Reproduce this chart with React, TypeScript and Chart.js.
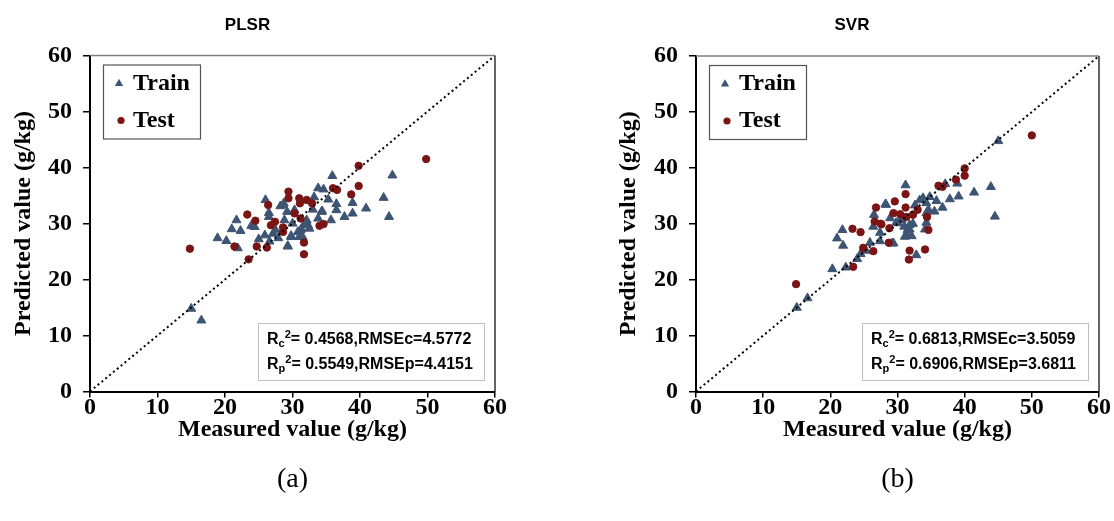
import React, { useEffect, useRef } from "react";
import { Chart, registerables } from "chart.js";

Chart.register(...registerables);

// ---------- data ----------
const axisTicks = [0, 10, 20, 30, 40, 50, 60];
const axisMin = 0;
const axisMax = 60;
const identityLine = [0, 60];

const plsrTrain: [number, number][] = [
  [15.0, 14.8], [16.5, 12.7], [18.9, 27.4], [20.2, 26.9], [21.0, 29.0], [21.7, 30.6],
  [22.3, 28.7], [21.9, 25.6], [23.9, 29.6], [24.4, 29.4], [26.0, 34.2], [26.5, 31.9],
  [26.5, 31.2], [25.0, 27.2], [25.9, 27.9], [27.1, 28.2], [26.6, 26.8], [27.9, 27.4],
  [28.2, 33.1], [28.7, 33.6], [29.2, 32.1], [27.5, 28.8], [29.3, 25.9], [29.8, 27.8],
  [31.0, 27.6], [30.0, 30.0], [30.8, 28.5], [31.3, 29.0], [31.7, 29.8], [32.3, 29.7],
  [32.1, 30.6], [33.0, 32.5], [33.8, 36.3], [34.6, 36.1], [35.9, 38.5], [34.3, 32.1],
  [35.3, 34.3], [36.5, 33.5], [36.5, 32.4], [35.7, 30.6], [37.7, 31.2], [38.9, 33.7],
  [38.9, 31.8], [40.9, 32.7], [43.5, 34.6], [44.8, 38.6], [44.3, 31.2], [31.2, 28.8],
  [31.5, 27.6], [29.3, 26.0], [28.8, 30.6], [30.3, 32.4], [32.0, 30.3], [32.5, 29.1],
  [33.8, 30.9], [33.2, 34.7], [34.4, 32.2], [28.6, 33.3], [29.8, 27.6],
];
const plsrTest: [number, number][] = [
  [14.8, 25.5], [23.3, 31.6], [24.5, 30.5], [21.4, 25.9], [23.5, 23.6], [24.7, 25.9],
  [26.2, 25.7], [26.4, 33.3], [26.8, 29.7], [27.4, 30.3], [28.6, 29.3], [28.6, 28.5],
  [29.4, 35.7], [29.4, 34.5], [30.3, 31.8], [31.0, 34.5], [31.1, 33.6], [31.2, 30.9],
  [32.1, 34.2], [32.9, 33.6], [31.7, 26.6], [31.7, 24.5], [34.0, 29.6], [34.6, 29.9],
  [36.0, 36.3], [36.6, 36.0], [38.7, 35.2], [39.8, 36.7], [39.8, 40.3], [49.8, 41.5],
];
const svrTrain: [number, number][] = [
  [15.0, 15.0], [16.6, 16.7], [20.3, 21.9], [22.3, 22.2], [21.9, 26.1], [21.0, 27.4],
  [21.8, 28.9], [24.0, 23.7], [24.5, 24.6], [25.3, 25.2], [25.9, 26.6], [27.4, 28.4],
  [27.4, 26.9], [26.5, 31.6], [28.2, 33.5], [26.4, 29.5], [29.2, 26.5], [28.9, 31.0],
  [29.8, 30.2], [30.6, 30.7], [31.2, 36.9], [31.4, 28.0], [31.8, 29.0], [31.0, 29.5],
  [32.3, 30.0], [32.8, 24.4], [33.8, 34.6], [34.3, 33.7], [34.3, 31.9], [34.3, 30.2],
  [45.0, 44.8], [43.9, 36.6], [41.4, 35.6], [39.1, 34.9], [37.8, 34.4], [38.9, 37.2],
  [37.1, 37.1], [34.8, 34.8], [35.8, 34.1], [36.7, 32.9], [34.6, 32.5], [35.5, 32.2],
  [33.3, 34.2], [32.6, 33.3], [44.5, 31.3], [28.3, 33.4], [30.1, 30.1], [31.8, 29.8],
  [31.5, 28.9], [31.1, 27.7], [32.1, 27.8], [34.1, 29.0], [29.4, 26.5],
];
const svrTest: [number, number][] = [
  [14.9, 19.2], [23.4, 22.3], [23.3, 29.1], [24.5, 28.5], [24.9, 25.7], [26.4, 25.1],
  [26.8, 32.9], [26.6, 30.4], [27.5, 30.0], [28.8, 29.2], [28.7, 26.6], [29.6, 34.0],
  [31.2, 35.3], [31.2, 32.9], [29.4, 31.9], [30.4, 31.7], [31.3, 31.2], [32.3, 31.6],
  [33.0, 32.5], [34.4, 31.2], [34.6, 28.9], [31.8, 25.2], [31.7, 23.6], [34.1, 25.4],
  [50.0, 45.8], [40.0, 39.9], [40.0, 38.6], [38.7, 37.9], [36.1, 36.8], [36.7, 36.6],
  [27.6, 29.9],
];

const plsrStats = ["0.4568", "4.5772", "0.5549", "4.4151"];
const svrStats = ["0.6813", "3.5059", "0.6906", "3.6811"];
const legendLabels = ["Train", "Test"];
const panelTitles = ["PLSR", "SVR"];
const panelTags = ["(a)", "(b)"];
const xTitle = "Measured value (g/kg)";
const yTitle = "Predicted value (g/kg)";

// ---------- styles ----------
const BLUE = "#3D5473";
const RED = "#7B1414";
const SERIF = '"Liberation Serif", "Times New Roman", serif';
const SANS = '"Liberation Sans", Arial, sans-serif';

type Panel = {
  left: number;
  width: number;
  height: number;
  yAxisWidth: number;
  padRight: number;
  padTop: number;
  xAxisHeight: number;
  yTitlePad: number;
  titleX: number;
  title: string;
  tag: string;
  train: [number, number][];
  test: [number, number][];
  stats: string[];
};

function drawTriangle(ctx: CanvasRenderingContext2D, x: number, y: number, r: number) {
  ctx.beginPath();
  for (let i = 0; i < 3; i++) {
    const a = (i * 2 * Math.PI) / 3;
    const px = x + Math.sin(a) * r;
    const py = y - Math.cos(a) * r;
    if (i === 0) ctx.moveTo(px, py);
    else ctx.lineTo(px, py);
  }
  ctx.closePath();
  ctx.fill();
}

function drawStatLine(
  ctx: CanvasRenderingContext2D,
  x: number,
  y: number,
  sub: string,
  r2: string,
  rmseName: string,
  rmse: string
) {
  ctx.textBaseline = "alphabetic";
  ctx.textAlign = "left";
  ctx.fillStyle = "#000";
  ctx.font = `bold 16px ${SANS}`;
  ctx.fillText("R", x, y);
  let cx = x + ctx.measureText("R").width;
  ctx.font = `bold 11px ${SANS}`;
  ctx.fillText(sub, cx, y + 3);
  cx += ctx.measureText(sub).width;
  ctx.fillText("2", cx, y - 6);
  cx += ctx.measureText("2").width;
  ctx.font = `bold 16px ${SANS}`;
  ctx.fillText(`= ${r2},${rmseName}=${rmse}`, cx, y);
}

function makeDecor(p: Panel) {
  return {
    id: "decor",
    afterDraw(chart: any) {
      const { ctx, chartArea: ca } = chart;
      ctx.save();
      // top & right frame
      ctx.lineWidth = 1.5;
      ctx.strokeStyle = "#808080";
      ctx.beginPath();
      ctx.moveTo(ca.left, ca.top);
      ctx.lineTo(ca.right, ca.top);
      ctx.stroke();
      ctx.strokeStyle = "#303030";
      ctx.beginPath();
      ctx.moveTo(ca.right, ca.top);
      ctx.lineTo(ca.right, ca.bottom);
      ctx.stroke();

      // legend box
      const lx = ca.left + 13;
      const ly = ca.top + 9;
      const lw = 97;
      const lh = 74;
      ctx.fillStyle = "#fff";
      ctx.fillRect(lx, ly, lw, lh);
      ctx.strokeStyle = "#555";
      ctx.lineWidth = 1.2;
      ctx.strokeRect(lx + 0.5, ly + 0.5, lw, lh);
      ctx.fillStyle = BLUE;
      drawTriangle(ctx, lx + 16, ly + 19, 4.8);
      ctx.fillStyle = RED;
      ctx.beginPath();
      ctx.arc(lx + 18, ly + 56, 3.6, 0, Math.PI * 2);
      ctx.fill();
      ctx.fillStyle = "#000";
      ctx.font = `bold 24px ${SERIF}`;
      ctx.textAlign = "left";
      ctx.textBaseline = "middle";
      ctx.fillText(legendLabels[0], lx + 30, ly + 19);
      ctx.fillText(legendLabels[1], lx + 30, ly + 56);

      // stats box
      const bx = ca.right - 237;
      const by = 323;
      const bw = 226;
      const bh = 57;
      ctx.fillStyle = "#fff";
      ctx.fillRect(bx, by, bw, bh);
      ctx.strokeStyle = "#c0c0c0";
      ctx.lineWidth = 1;
      ctx.strokeRect(bx + 0.5, by + 0.5, bw, bh);
      drawStatLine(ctx, bx + 9, by + 21, "c", p.stats[0], "RMSEc", p.stats[1]);
      drawStatLine(ctx, bx + 9, by + 46, "p", p.stats[2], "RMSEp", p.stats[3]);

      // panel title
      ctx.fillStyle = "#000";
      ctx.font = `bold 17px ${SANS}`;
      ctx.textAlign = "center";
      ctx.textBaseline = "middle";
      ctx.fillText(p.title, p.titleX, 25);

      // panel tag
      ctx.font = `28px ${SERIF}`;
      ctx.fillText(p.tag, (ca.left + ca.right) / 2, 480);
      ctx.restore();
    },
  };
}

function ScatterPanel({ p }: { p: Panel }) {
  const ref = useRef<HTMLCanvasElement | null>(null);
  useEffect(() => {
    if (!ref.current) return;
    const tickFont = { family: SERIF, size: 24, weight: "bold" as const };
    const chart = new Chart(ref.current, {
      type: "scatter",
      data: {
        datasets: [
          {
            type: "line",
            label: "1:1",
            data: identityLine.map((v) => ({ x: v, y: v })),
            borderColor: "#000",
            borderWidth: 2,
            borderDash: [2, 3],
            pointRadius: 0,
            fill: false,
            tension: 0,
          } as any,
          {
            label: legendLabels[1],
            data: p.test.map(([x, y]) => ({ x, y })),
            pointStyle: "circle",
            pointRadius: 3.7,
            backgroundColor: RED,
            borderColor: RED,
            borderWidth: 1,
          },
          {
            label: legendLabels[0],
            data: p.train.map(([x, y]) => ({ x, y })),
            pointStyle: "triangle",
            pointRadius: 5.2,
            backgroundColor: BLUE,
            borderColor: BLUE,
            borderWidth: 1,
          },
        ],
      },
      options: {
        responsive: false,
        animation: false,
        devicePixelRatio: 1,
        layout: { padding: { top: p.padTop, right: p.padRight, bottom: 0, left: 0 } },
        plugins: { legend: { display: false }, tooltip: { enabled: false }, title: { display: false } },
        scales: {
          x: {
            type: "linear",
            min: axisMin,
            max: axisMax,
            afterBuildTicks: (s: any) => {
              s.ticks = axisTicks.map((v) => ({ value: v }));
            },
            afterFit: (s: any) => {
              s.height = p.xAxisHeight;
              s.paddingLeft = 0;
              s.paddingRight = 0;
              s.paddingTop = 0;
              s.paddingBottom = 0;
            },
            ticks: { font: tickFont, color: "#000", padding: -4, maxRotation: 0 },
            grid: { drawOnChartArea: false, drawTicks: true, tickLength: 6, color: "#000", lineWidth: 1.5 },
            border: { display: true, color: "#000", width: 2 },
            title: {
              display: true,
              text: xTitle,
              font: tickFont,
              color: "#000",
              padding: { top: 0, bottom: 77 },
            },
          },
          y: {
            type: "linear",
            min: axisMin,
            max: axisMax,
            afterBuildTicks: (s: any) => {
              s.ticks = axisTicks.map((v) => ({ value: v }));
            },
            afterFit: (s: any) => {
              s.width = p.yAxisWidth;
              s.paddingLeft = 0;
              s.paddingRight = 0;
              s.paddingTop = 0;
              s.paddingBottom = 0;
            },
            ticks: { font: tickFont, color: "#000", padding: 11 },
            grid: { drawOnChartArea: false, drawTicks: true, tickLength: 7, color: "#000", lineWidth: 1.5 },
            border: { display: true, color: "#000", width: 2 },
            title: {
              display: true,
              text: yTitle,
              font: tickFont,
              color: "#000",
              padding: { top: p.yTitlePad, bottom: 0 },
            },
          },
        },
      },
      plugins: [makeDecor(p)],
    } as any);
    return () => chart.destroy();
  }, [p]);
  return (
    <canvas
      ref={ref}
      width={p.width}
      height={p.height}
      style={{ position: "absolute", left: p.left, top: 0, width: p.width, height: p.height, display: "block" }}
    />
  );
}

const panels: Panel[] = [
  {
    left: 0,
    width: 557,
    height: 521,
    yAxisWidth: 90,
    padRight: 62,
    padTop: 55.5,
    xAxisHeight: 129.5,
    yTitlePad: 9,
    titleX: 247.5,
    title: panelTitles[0],
    tag: panelTags[0],
    train: plsrTrain,
    test: plsrTest,
    stats: plsrStats,
  },
  {
    left: 557,
    width: 557,
    height: 521,
    yAxisWidth: 139,
    padRight: 15,
    padTop: 56,
    xAxisHeight: 129.5,
    yTitlePad: 57.6,
    titleX: 295,
    title: panelTitles[1],
    tag: panelTags[1],
    train: svrTrain,
    test: svrTest,
    stats: svrStats,
  },
];

export default function App() {
  return (
    <div
      style={{
        position: "absolute",
        left: 0,
        top: 0,
        width: 1114,
        height: 521,
        background: "#fff",
        overflow: "hidden",
      }}
    >
      {panels.map((p, i) => (
        <ScatterPanel key={i} p={p} />
      ))}
    </div>
  );
}
